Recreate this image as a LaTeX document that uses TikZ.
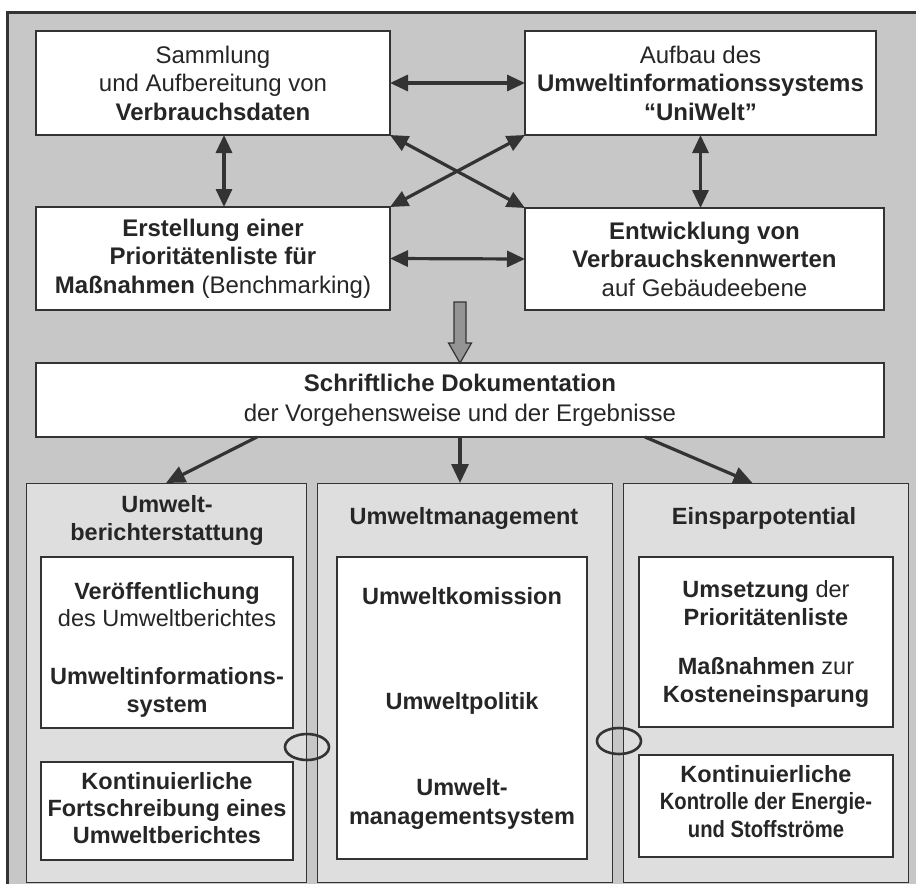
\documentclass[tikz,border=0pt]{standalone}
\usepackage{fontspec}
\setmainfont{Liberation Sans}
\usepackage{graphicx}
\usetikzlibrary{arrows.meta}

\definecolor{bggray}{gray}{0.78}
\definecolor{colgray}{gray}{0.87}
\definecolor{ink}{gray}{0.2}
\definecolor{txt}{gray}{0.15}
\definecolor{fatgray}{gray}{0.58}

\begin{document}
\begin{tikzpicture}[x=1pt,y=-1pt,
  box/.style={draw=ink, line width=1.3pt, fill=white, inner sep=0pt, outer sep=0pt,
    align=center, text=txt, font=\fontsize{24}{28.5}\selectfont},
  column/.style={draw=ink, line width=1pt, fill=colgray, inner sep=0pt, outer sep=0pt},
  lbl/.style={anchor=base, inner sep=0pt, text=txt, font=\fontsize{23.5}{28}\selectfont},
  dbl/.style={draw=ink, line width=3.2pt,
    {Triangle[length=18pt,width=16pt]}-{Triangle[length=18pt,width=16pt]}},
  one/.style={draw=ink, line width=3.2pt, -{Triangle[length=19pt,width=17pt]}},
  ring/.style={draw=ink, line width=2.6pt},
]
\useasboundingbox (0,0) rectangle (916,884);

% page and framed panel
\fill[white] (0,0) rectangle (916,884);
\fill[bggray] (7,12) rectangle (916,884);
\draw[ink, line width=3pt] (7,884) -- (7,12) -- (916,12);

% upper four work packages
\node[box, minimum width=354, minimum height=104] (TL) at (213,83)
  {Sammlung\\und Aufbereitung von\\\textbf{Verbrauchsdaten}};
\node[box, minimum width=351, minimum height=104] (TR) at (700.5,83)
  {Aufbau des\\\textbf{Umweltinformationssystems}\\\textbf{“UniWelt”}};
\node[box, minimum width=354, minimum height=103] (BL) at (213,258.5)
  {\textbf{Erstellung einer}\\\textbf{Prioritätenliste für}\\\textbf{Maßnahmen} (Benchmarking)};
\node[box, minimum width=359, minimum height=102] (BR) at (704.5,259)
  {\textbf{Entwicklung von}\\\textbf{Verbrauchskennwerten}\\auf Gebäudeebene};

% mutual links
\draw[dbl] (TL.east) -- (TR.west);
\draw[dbl] (BL.east) -- (BR.west);
\draw[dbl] ([xshift=11pt]TL.south) -- ([xshift=11pt]TL.south |- BL.north);
\draw[dbl] (TR.south) -- (TR.south |- BR.north);
\draw[dbl] (TL.south east) -- (BR.north west);
\draw[dbl] (TR.south west) -- (BL.north east);

% documentation
\node[box, minimum width=848, minimum height=74, font=\fontsize{24}{30}\selectfont] (doc) at (460,400)
  {\textbf{Schriftliche Dokumentation}\\der Vorgehensweise und der Ergebnisse};

% broad arrow into the documentation
\draw[ink, line width=1.2pt, fill=fatgray, line join=miter]
  (doc.north) -- ++(-11.5,-20) -- ++(5.5,0) -- ++(0,-41) -- ++(12,0)
  -- ++(0,41) -- ++(5.5,0) -- cycle;

% three result columns
\node[column, minimum width=280, minimum height=399] (colL) at (166,682.5) {};
\node[column, minimum width=295, minimum height=399] (colM) at (464.5,682.5) {};
\node[column, minimum width=285, minimum height=399] (colR) at (765.5,682.5) {};

\coordinate (dl) at (257,437);
\coordinate (dr) at (645,437);
\draw[one] (dl) -- (colL.north);
\draw[one] (doc.south) -- (doc.south |- colM.north);
\draw[one] (dr) -- ([xshift=-13pt]colR.north);

% inner boxes
\node[box, minimum width=252, minimum height=171] (L1) at (167,642.5) {};
\node[box, minimum width=252, minimum height=98] (L2) at (167,811) {};
\node[box, minimum width=250, minimum height=302] (M1) at (462,708) {};
\node[box, minimum width=254, minimum height=170] (R1) at (766,642) {};
\node[box, minimum width=254, minimum height=102] (R2) at (766,806) {};

% links between the columns
\draw[ring] (307,747) ellipse [x radius=22, y radius=13];
\draw[ring] (619,741) ellipse [x radius=22, y radius=13];

% column headings
\node[lbl] (hL1) at (167,512) {\textbf{Umwelt-}};
\node[lbl] (hL2) at (167,540) {\textbf{berichterstattung}};
\node[lbl] (hM) at (464,524) {\textbf{Umweltmanagement}};
\node[lbl] (hR) at (764,524) {\textbf{Einsparpotential}};

% left column texts
\node[lbl] (l1a) at (167,599) {\textbf{Veröffentlichung}};
\node[lbl] (l1b) at (167,626) {des Umweltberichtes};
\node[lbl] (l1c) at (167,684) {\textbf{Umweltinformations-}};
\node[lbl] (l1d) at (167,712) {\textbf{system}};
\node[lbl] (l2a) at (167,789) {\textbf{Kontinuierliche}};
\node[lbl] (l2b) at (167,816) {\textbf{Fortschreibung eines}};
\node[lbl] (l2c) at (167,843) {\textbf{Umweltberichtes}};

% middle column texts
\node[lbl] (m1) at (462,604) {\textbf{Umweltkomission}};
\node[lbl] (m2) at (462,709) {\textbf{Umweltpolitik}};
\node[lbl] (m3) at (462,795) {\textbf{Umwelt-}};
\node[lbl] (m4) at (462,824) {\textbf{managementsystem}};

% right column texts
\node[lbl] (r1a) at (766,597) {\textbf{Umsetzung} der};
\node[lbl] (r1b) at (766,625) {\textbf{Prioritätenliste}};
\node[lbl] (r1c) at (766,674) {\textbf{Maßnahmen} zur};
\node[lbl] (r1d) at (766,702) {\textbf{Kosteneinsparung}};
\node[lbl] (r2a) at (766,782) {\textbf{Kontinuierliche}};
\node[lbl] (r2b) at (766,809) {\scalebox{0.86}[1]{\textbf{Kontrolle der Energie-}}};
\node[lbl] (r2c) at (766,837) {\scalebox{0.86}[1]{\textbf{und Stoffströme}}};
\end{tikzpicture}
\end{document}
